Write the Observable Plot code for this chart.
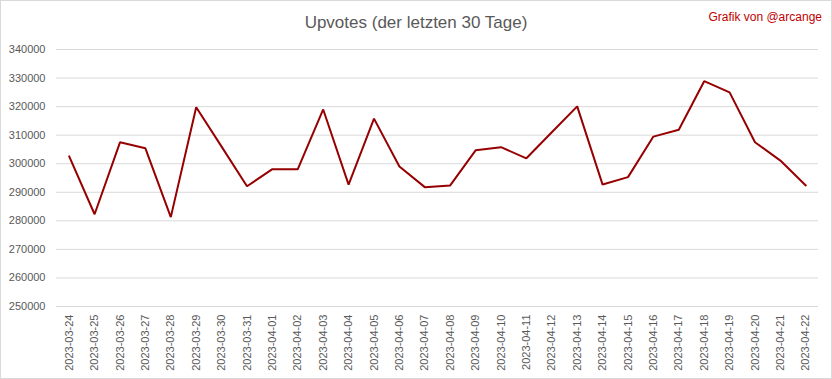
<!DOCTYPE html>
<html>
<head>
<meta charset="utf-8">
<script src="https://cdn.jsdelivr.net/npm/d3@7"></script>
<script src="https://cdn.jsdelivr.net/npm/@observablehq/plot@0.6"></script>
<style>
  html, body { margin: 0; padding: 0; background: #fff; }
  #chart { position: relative; width: 832px; height: 379px; box-sizing: border-box; border: 1px solid #d9d9d9; background: #fff; font-family: "Liberation Sans", Arial, sans-serif; overflow: hidden; }
  #title { position: absolute; left: 0; width: 830px; top: 12px; text-align: center; font-size: 17px; color: #595959; line-height: 20px; }
  #credit { position: absolute; right: 9px; top: 8px; font-size: 12px; color: #c00000; line-height: 16px; }
  #plot { position: absolute; left: 0; top: 39px; }
</style>
</head>
<body>
<div id="chart">
  <div id="title">Upvotes (der letzten 30 Tage)</div>
  <div id="credit">Grafik von @arcange</div>
  <div id="plot"></div>
</div>
<script>
const dates = ["2023-03-24","2023-03-25","2023-03-26","2023-03-27","2023-03-28","2023-03-29","2023-03-30","2023-03-31","2023-04-01","2023-04-02","2023-04-03","2023-04-04","2023-04-05","2023-04-06","2023-04-07","2023-04-08","2023-04-09","2023-04-10","2023-04-11","2023-04-12","2023-04-13","2023-04-14","2023-04-15","2023-04-16","2023-04-17","2023-04-18","2023-04-19","2023-04-20","2023-04-21","2023-04-22"];
const upvotes = [302600,282300,307500,305400,281300,319800,306000,292100,298100,298100,319000,292700,315800,299000,291800,292400,304700,305800,301900,311000,320100,292700,295300,309500,311900,328900,325000,307500,301100,292400];
const yTicks = [250000,260000,270000,280000,290000,300000,310000,320000,330000,340000];

const data = dates.map((d, i) => ({date: d, value: upvotes[i]}));

const chart = Plot.plot({
  width: 830,
  height: 338,
  marginLeft: 55,
  marginRight: 13,
  marginTop: 9,
  marginBottom: 72,
  style: { fontFamily: "Liberation Sans, Arial, sans-serif", fontSize: "11px", color: "#595959", background: "#fff" },
  x: { type: "point", domain: dates, padding: 0.5, round: false, label: null, tickSize: 0, tickPadding: 8, tickRotate: -90 },
  y: { domain: [250000, 340000], ticks: yTicks, label: null, tickSize: 0, tickPadding: 11, tickFormat: d3.format("d") },
  marks: [
    Plot.gridY(yTicks, { stroke: "#d9d9d9", strokeOpacity: 1, strokeWidth: 1 }),
    Plot.axisY({ ticks: yTicks, tickSize: 0, tickPadding: 11, tickFormat: d3.format("d"), label: null, fill: "#595959" }),
    Plot.axisX({ tickSize: 0, tickPadding: 8, tickRotate: -90, label: null, fill: "#595959" }),
    Plot.line(data, { x: "date", y: "value", stroke: "#960000", strokeWidth: 2, strokeLinejoin: "miter" })
  ]
});
document.getElementById("plot").appendChild(chart);
</script>
</body>
</html>
